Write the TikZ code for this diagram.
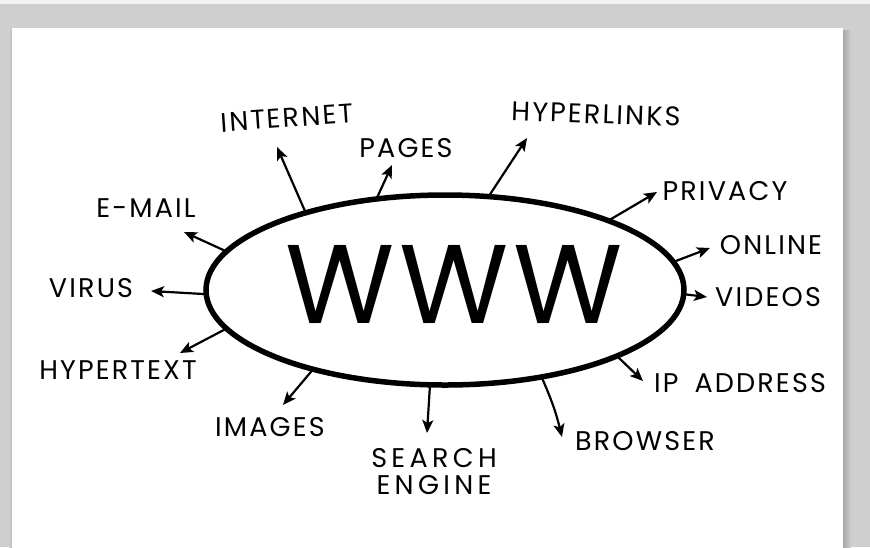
\documentclass[tikz,border=0pt]{standalone}
\usepackage{fontspec}
\setmainfont{Poppins}
\usetikzlibrary{arrows.meta,shapes.geometric}
\definecolor{bggray}{HTML}{CFCFCF}
\definecolor{toplight}{HTML}{F2F2F2}
\definecolor{shadowgray}{HTML}{A8A8A8}
\begin{document}
\begin{tikzpicture}[x=1pt,y=-1pt,
  lbl/.style={font=\fontsize{27}{30}\selectfont\addfontfeature{LetterSpace=8}, inner sep=0pt, align=center},
  arr/.style={line width=2.2pt, -{Stealth[length=13pt,width=11pt,inset=3pt]}, line cap=round}]
\useasboundingbox (0,0) rectangle (870,547);
\fill[bggray] (0,0) rectangle (870,547);
\fill[toplight] (0,0) rectangle (870,4);
\shade[left color=shadowgray, right color=bggray] (843,30) rectangle (851,547);
\shade[left color=bggray, right color=shadowgray!80] (9,30) rectangle (12,547);
\fill[white] (12,28) rectangle (843,547);

\node[draw, ellipse, line width=5.5pt, minimum width=478pt, minimum height=190pt, inner sep=0pt, outer sep=0pt] (www) at (445,290) {};
\node[font=\fontsize{112}{112}\selectfont\addfontfeature{LetterSpace=4}, inner sep=0pt] (wtext) at (454,285) {WWW};

\node[lbl, rotate=4] (internet) at (287,118) {INTERNET};
\node[lbl] (pages) at (406,148) {PAGES};
\node[lbl, rotate=-2] (hyperlinks) at (596,114) {HYPERLINKS};
\node[lbl] (privacy) at (725,191) {PRIVACY};
\node[lbl] (online) at (771,245) {ONLINE};
\node[lbl] (videos) at (768,297) {VIDEOS};
\node[lbl] (ip) at (740,383) {IP\hspace{16pt}ADDRESS};
\node[lbl] (browser) at (645,441) {BROWSER};
\node[lbl, font=\fontsize{27}{27}\selectfont\addfontfeature{LetterSpace=16}] (search) at (434,472) {SEARCH\\ENGINE};
\node[lbl] (images) at (270,427) {IMAGES};
\node[lbl] (hypertext) at (118,370) {HYPERTEXT};
\node[lbl] (virus) at (91,288) {VIRUS};
\node[lbl] (email) at (146,208) {E-MAIL};

\coordinate (tEmail) at (184,232);
\coordinate (tVirus) at (151,291);
\coordinate (tHypertext) at (180,353);
\coordinate (tInternet) at (277,147);
\coordinate (tPages) at (392,165);
\coordinate (tHyperlinks) at (527,138);
\coordinate (tPrivacy) at (657,192);
\coordinate (tOnline) at (710,248);
\coordinate (tVideos) at (707,297);
\coordinate (tIp) at (643,381);
\coordinate (tBrowser) at (562,437);
\coordinate (tSearch) at (427,433);
\coordinate (tImages) at (283,405);

\draw[arr] (www.170.8) -- (tEmail);
\draw[arr] (www.181.4) -- (tVirus);
\draw[arr] (www.190.3) -- (tHypertext);
\draw[arr] (www.151.7) -- (tInternet);
\draw[arr] (www.127.9) -- (tPages);
\draw[arr] (www.65.1) -- (tHyperlinks);
\draw[arr] (www.23.4) -- (tPrivacy);
\draw[arr] (www.7.8) -- (tOnline);
\draw[arr] (www.-1.7) -- (tVideos);
\draw[arr] (www.-21) -- (tIp);
\draw[arr] (www.-42.3) to[bend left=5] (tBrowser);
\draw[arr] (www.-99.8) -- (tSearch);
\draw[arr] (www.211.3) -- (tImages);
\end{tikzpicture}
\end{document}
